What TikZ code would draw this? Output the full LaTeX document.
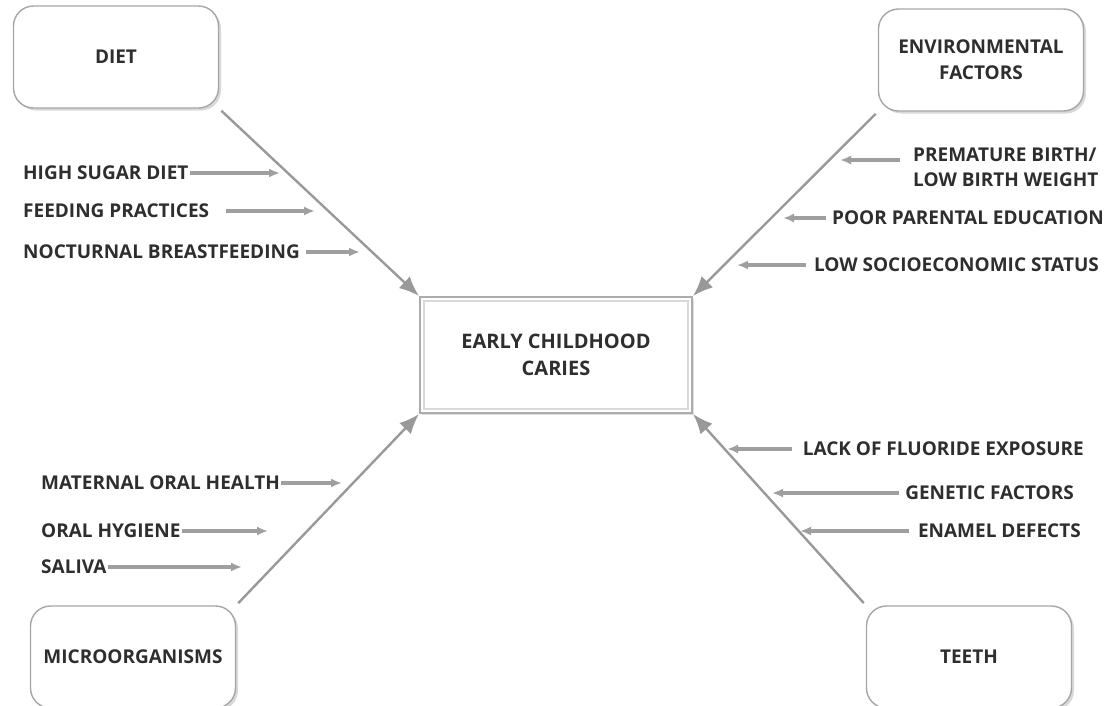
\documentclass[tikz,border=0pt]{standalone}
\usepackage{fontspec}
\setmainfont{Open Sans}
\usetikzlibrary{arrows.meta,shadows}

\begin{document}
\begin{tikzpicture}[x=1pt,y=1pt,yscale=-1,
  factor/.style={draw=gray!70, line width=1.4pt, fill=white, rounded corners=20pt,
    minimum width=205pt, minimum height=102pt, align=center, text=black!82,
    font=\fontsize{19}{26}\selectfont\bfseries,
    drop shadow={shadow xshift=2.5pt, shadow yshift=-2.5pt, opacity=0.3}},
  core/.style={draw=gray!65, line width=2pt, fill=white, minimum width=272pt,
    minimum height=116pt, align=center, text=black!82,
    font=\fontsize{20}{27}\selectfont\bfseries,
    drop shadow={shadow xshift=2pt, shadow yshift=-2pt, opacity=0.25}},
  cause/.style={inner sep=1pt, text=black!82, align=left,
    font=\fontsize{19}{25}\selectfont\bfseries},
  main/.style={draw=gray!80, line width=2.4pt, -{Latex[length=20pt,width=16pt]}},
  sub/.style={draw=gray!75, line width=3.2pt, -{Latex[length=11pt,width=9pt]}}
]
\clip (0,0) rectangle (1116,705);
\useasboundingbox (0,0) rectangle (1116,705);

%Shape: Rounded Rect [id:diet]
\node [factor] (diet) at (116,57) {DIET};
%Shape: Rounded Rect [id:env]
\node [factor] (env) at (981,60) {ENVIRONMENTAL\\FACTORS};
%Shape: Rounded Rect [id:micro]
\node [factor] (micro) at (133,657) {MICROORGANISMS};
%Shape: Rounded Rect [id:teeth]
\node [factor] (teeth) at (969,657) {TEETH};
%Shape: Rectangle [id:ecc]
\node [core] (ecc) at (556,355) {EARLY CHILDHOOD\\CARIES};
\draw [gray!30, line width=1.5pt] ([shift={(5,5)}]ecc.north west) rectangle ([shift={(-5,-5)}]ecc.south east);

%Straight Lines [id:main]
\draw [main, shorten <=3pt] (diet.south east) -- (ecc.north west);
\draw [main, shorten <=3pt] (env.south west) -- (ecc.north east);
\draw [main, shorten <=3pt] (micro.north east) -- (ecc.south west);
\draw [main, shorten <=3pt] (teeth.north west) -- (ecc.south east);

% Text Node
\node [cause, anchor=west] (hsd) at (22,173) {HIGH SUGAR DIET};
% Text Node
\node [cause, anchor=west] (fp) at (22,211) {FEEDING PRACTICES};
% Text Node
\node [cause, anchor=west] (nb) at (22,252) {NOCTURNAL BREASTFEEDING};
% Text Node
\node [cause, anchor=west] (pb) at (912,167) {PREMATURE BIRTH/\\LOW BIRTH WEIGHT};
% Text Node
\node [cause, anchor=east] (ppe) at (1105,218) {POOR PARENTAL EDUCATION};
% Text Node
\node [cause, anchor=east] (lse) at (1100,265) {LOW SOCIOECONOMIC STATUS};
% Text Node
\node [cause, anchor=east] (lfe) at (1085,449) {LACK OF FLUORIDE EXPOSURE};
% Text Node
\node [cause, anchor=east] (gf) at (1075,493) {GENETIC FACTORS};
% Text Node
\node [cause, anchor=east] (ed) at (1082,531) {ENAMEL DEFECTS};
% Text Node
\node [cause, anchor=west] (moh) at (40,483) {MATERNAL ORAL HEALTH};
% Text Node
\node [cause, anchor=west] (oh) at (40,531) {ORAL HYGIENE};
% Text Node
\node [cause, anchor=west] (sal) at (40,567) {SALIVA};

\coordinate (hsdtip) at (280,173);
\coordinate (fptip) at (315,211);
\coordinate (nbtip) at (360,252);
\coordinate (pbtip) at (840,160);
\coordinate (ppetip) at (783,218);
\coordinate (lsetip) at (737,265);
\coordinate (lfetip) at (727,449);
\coordinate (gftip) at (772,493);
\coordinate (edtip) at (800,531);
\coordinate (mohtip) at (342,483);
\coordinate (ohtip) at (268,531);
\coordinate (saltip) at (242,567);

%Straight Lines [id:sub]
\draw [sub] (hsd.east) -- (hsdtip);
\draw [sub] ([xshift=16pt]fp.east) -- (fptip);
\draw [sub] ([xshift=5pt]nb.east) -- (nbtip);
\draw [sub] ([xshift=-12pt]pb.west |- pbtip) -- (pbtip);
\draw [sub] ([xshift=-5pt]ppe.west) -- (ppetip);
\draw [sub] ([xshift=-7pt]lse.west) -- (lsetip);
\draw [sub] ([xshift=-10pt]lfe.west) -- (lfetip);
\draw [sub] ([xshift=-5pt]gf.west) -- (gftip);
\draw [sub] ([xshift=-8pt]ed.west) -- (edtip);
\draw [sub] (moh.east) -- (mohtip);
\draw [sub] (oh.east) -- (ohtip);
\draw [sub] (sal.east) -- (saltip);

\end{tikzpicture}
\end{document}
